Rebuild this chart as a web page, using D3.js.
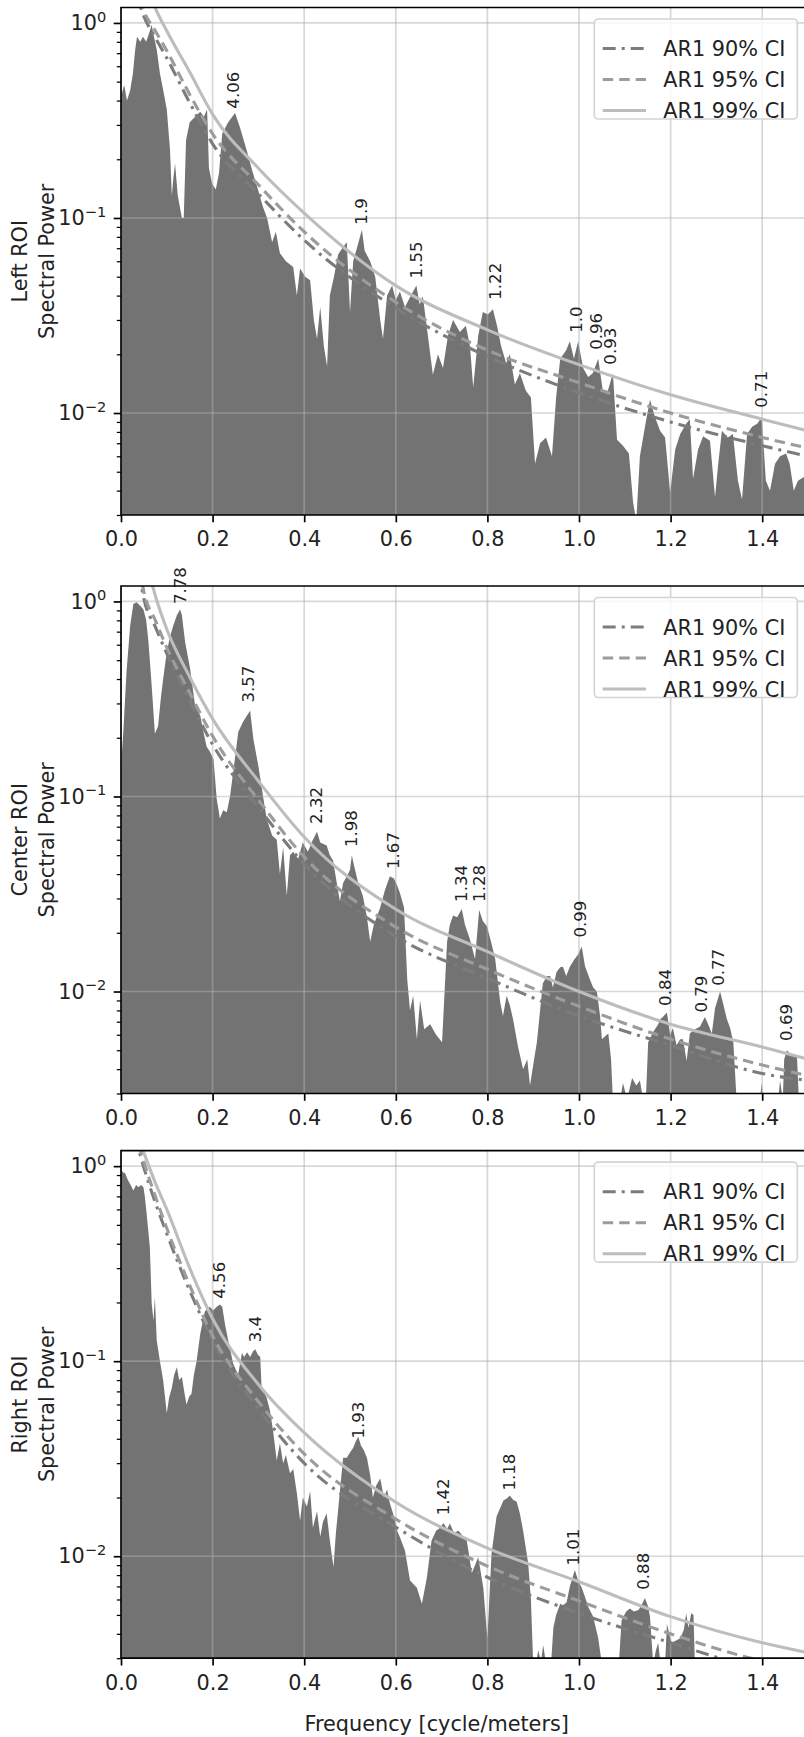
<!DOCTYPE html>
<html>
<head>
<meta charset="utf-8">
<script src="https://cdn.jsdelivr.net/npm/d3@7"></script>
<style>
  body { margin: 0; background: #fff; }
  text { font-family: "DejaVu Sans", sans-serif; fill: #222; }
</style>
</head>
<body>
<div id="chart"></div>
<script>

// ---- data ----
const xTicks = [0, 0.2, 0.4, 0.6, 0.8, 1.0, 1.2, 1.4];
const yMajor = [1, 0.1, 0.01];
const yMajorExp = ["0", "\u22121", "\u22122"];
const panelNames = ["Left ROI", "Center ROI", "Right ROI"];
const ciNames = ["AR1 90% CI", "AR1 95% CI", "AR1 99% CI"];

// [frequency, spectral power]
const leftSpectrum = [[0.000,0.42],[0.007,0.48],[0.013,0.40],[0.020,0.45],[0.026,0.55],[0.031,0.73],[0.035,0.85],[0.042,0.80],[0.048,0.85],[0.055,0.80],[0.061,0.88],[0.067,0.98],[0.072,0.85],[0.078,0.73],[0.085,0.55],[0.092,0.455],[0.100,0.36],[0.107,0.224],[0.111,0.13],[0.114,0.157],[0.118,0.19],[0.124,0.13],[0.133,0.10],[0.137,0.10],[0.142,0.25],[0.150,0.31],[0.162,0.33],[0.173,0.35],[0.181,0.33],[0.188,0.36],[0.192,0.18],[0.199,0.15],[0.207,0.14],[0.214,0.17],[0.221,0.27],[0.234,0.31],[0.249,0.345],[0.260,0.29],[0.275,0.22],[0.288,0.17],[0.299,0.14],[0.310,0.114],[0.319,0.10],[0.330,0.075],[0.338,0.085],[0.347,0.066],[0.360,0.06],[0.376,0.056],[0.384,0.040],[0.391,0.055],[0.402,0.05],[0.413,0.048],[0.421,0.03],[0.428,0.024],[0.435,0.035],[0.443,0.022],[0.450,0.0173],[0.456,0.04],[0.465,0.05],[0.474,0.065],[0.483,0.07],[0.493,0.075],[0.500,0.033],[0.507,0.06],[0.515,0.07],[0.526,0.087],[0.532,0.068],[0.544,0.06],[0.555,0.05],[0.566,0.03],[0.572,0.024],[0.581,0.04],[0.592,0.045],[0.600,0.038],[0.609,0.042],[0.620,0.035],[0.633,0.040],[0.645,0.045],[0.652,0.036],[0.659,0.0397],[0.670,0.025],[0.681,0.0157],[0.692,0.02],[0.703,0.017],[0.714,0.025],[0.725,0.03],[0.740,0.026],[0.753,0.028],[0.762,0.022],[0.769,0.0135],[0.780,0.025],[0.790,0.033],[0.801,0.032],[0.812,0.034],[0.821,0.028],[0.830,0.022],[0.841,0.018],[0.849,0.02],[0.860,0.014],[0.871,0.016],[0.884,0.013],[0.895,0.012],[0.904,0.0055],[0.915,0.007],[0.928,0.0075],[0.941,0.006],[0.950,0.012],[0.959,0.019],[0.972,0.021],[0.980,0.0233],[0.989,0.019],[0.998,0.0233],[1.009,0.017],[1.020,0.0153],[1.030,0.016],[1.042,0.019],[1.052,0.013],[1.063,0.013],[1.074,0.016],[1.083,0.0073],[1.096,0.0068],[1.109,0.0062],[1.118,0.0035],[1.125,0.0028],[1.133,0.0060],[1.144,0.0085],[1.155,0.0117],[1.166,0.0095],[1.177,0.0081],[1.188,0.0075],[1.199,0.0039],[1.210,0.0065],[1.221,0.0078],[1.234,0.0088],[1.242,0.0093],[1.249,0.0046],[1.260,0.0065],[1.271,0.0076],[1.286,0.0072],[1.297,0.0037],[1.304,0.0055],[1.312,0.0081],[1.325,0.0075],[1.336,0.0078],[1.347,0.0045],[1.356,0.0036],[1.367,0.0078],[1.378,0.0085],[1.389,0.0088],[1.399,0.0095],[1.408,0.0045],[1.417,0.004],[1.428,0.0055],[1.439,0.006],[1.452,0.0062],[1.460,0.0055],[1.469,0.004],[1.478,0.0045],[1.491,0.0047],[1.500,0.0045]];

const centerSpectrum = [[0.000,0.143],[0.005,0.214],[0.012,0.435],[0.020,0.75],[0.027,0.97],[0.034,0.99],[0.042,0.95],[0.049,0.91],[0.055,0.80],[0.060,0.62],[0.067,0.37],[0.074,0.21],[0.081,0.23],[0.087,0.32],[0.092,0.40],[0.100,0.55],[0.107,0.66],[0.114,0.75],[0.122,0.85],[0.129,0.91],[0.133,0.85],[0.140,0.62],[0.151,0.45],[0.162,0.29],[0.173,0.26],[0.179,0.22],[0.187,0.18],[0.194,0.17],[0.202,0.155],[0.209,0.097],[0.216,0.077],[0.223,0.085],[0.231,0.083],[0.238,0.10],[0.245,0.133],[0.256,0.214],[0.266,0.24],[0.275,0.26],[0.282,0.275],[0.289,0.197],[0.300,0.143],[0.311,0.097],[0.318,0.077],[0.330,0.063],[0.340,0.06],[0.347,0.04],[0.354,0.055],[0.362,0.031],[0.369,0.05],[0.376,0.052],[0.387,0.048],[0.397,0.058],[0.408,0.052],[0.419,0.06],[0.428,0.066],[0.435,0.058],[0.449,0.056],[0.456,0.05],[0.463,0.047],[0.472,0.035],[0.478,0.029],[0.485,0.036],[0.493,0.039],[0.500,0.042],[0.504,0.05],[0.509,0.044],[0.518,0.036],[0.528,0.031],[0.537,0.024],[0.544,0.018],[0.552,0.022],[0.566,0.027],[0.576,0.033],[0.587,0.039],[0.596,0.038],[0.603,0.035],[0.609,0.032],[0.618,0.027],[0.625,0.0115],[0.631,0.008],[0.638,0.0095],[0.646,0.0057],[0.653,0.009],[0.662,0.0064],[0.675,0.0068],[0.688,0.006],[0.701,0.0055],[0.712,0.018],[0.718,0.022],[0.725,0.0245],[0.734,0.024],[0.744,0.0265],[0.751,0.022],[0.762,0.0185],[0.773,0.0147],[0.782,0.0262],[0.790,0.023],[0.799,0.0216],[0.808,0.018],[0.817,0.0147],[0.828,0.0088],[0.834,0.0075],[0.842,0.0095],[0.849,0.0085],[0.856,0.0072],[0.867,0.0052],[0.878,0.004],[0.887,0.0045],[0.893,0.0033],[0.900,0.0042],[0.908,0.0055],[0.915,0.008],[0.921,0.011],[0.930,0.012],[0.937,0.012],[0.943,0.0105],[0.951,0.0126],[0.959,0.0133],[0.965,0.0134],[0.972,0.012],[0.980,0.0134],[0.989,0.0145],[0.998,0.0155],[1.006,0.017],[1.013,0.0135],[1.024,0.0115],[1.031,0.0105],[1.039,0.010],[1.046,0.0075],[1.050,0.0057],[1.057,0.0059],[1.064,0.0061],[1.070,0.0045],[1.074,0.0028],[1.090,0.0028],[1.096,0.0034],[1.105,0.0028],[1.116,0.0036],[1.125,0.0033],[1.133,0.0035],[1.140,0.0028],[1.146,0.0028],[1.151,0.0055],[1.162,0.0062],[1.173,0.0068],[1.177,0.0072],[1.183,0.0074],[1.192,0.0078],[1.199,0.006],[1.205,0.0065],[1.213,0.0053],[1.221,0.0057],[1.227,0.0057],[1.235,0.0044],[1.242,0.0061],[1.253,0.0064],[1.264,0.0066],[1.275,0.0074],[1.282,0.0068],[1.290,0.0061],[1.297,0.0082],[1.308,0.0100],[1.314,0.0088],[1.323,0.0072],[1.330,0.0065],[1.337,0.0055],[1.344,0.0028],[1.395,0.0028],[1.399,0.0034],[1.402,0.0028],[1.435,0.0028],[1.439,0.0035],[1.445,0.0028],[1.448,0.0045],[1.454,0.005],[1.461,0.0048],[1.469,0.0047],[1.476,0.0046],[1.480,0.0028],[1.500,0.0028]];

const rightSpectrum = [[0.000,0.97],[0.004,0.93],[0.009,0.92],[0.015,0.85],[0.020,0.81],[0.027,0.75],[0.033,0.80],[0.038,0.78],[0.044,0.80],[0.049,0.78],[0.052,0.70],[0.056,0.57],[0.063,0.384],[0.067,0.197],[0.071,0.161],[0.074,0.213],[0.078,0.128],[0.085,0.10],[0.092,0.08],[0.100,0.054],[0.105,0.065],[0.111,0.073],[0.116,0.085],[0.122,0.093],[0.127,0.08],[0.133,0.083],[0.138,0.07],[0.143,0.06],[0.149,0.066],[0.154,0.068],[0.159,0.085],[0.165,0.10],[0.173,0.138],[0.183,0.18],[0.194,0.19],[0.201,0.182],[0.209,0.19],[0.216,0.195],[0.221,0.19],[0.227,0.155],[0.234,0.128],[0.240,0.11],[0.245,0.097],[0.251,0.09],[0.256,0.086],[0.264,0.11],[0.269,0.105],[0.275,0.111],[0.282,0.105],[0.288,0.112],[0.293,0.115],[0.299,0.108],[0.304,0.105],[0.307,0.073],[0.312,0.07],[0.318,0.065],[0.325,0.056],[0.332,0.044],[0.340,0.031],[0.347,0.038],[0.354,0.03],[0.360,0.033],[0.369,0.0266],[0.376,0.028],[0.384,0.021],[0.391,0.0152],[0.397,0.02],[0.406,0.018],[0.413,0.0216],[0.419,0.014],[0.428,0.017],[0.435,0.0126],[0.441,0.015],[0.449,0.0166],[0.456,0.012],[0.464,0.0088],[0.469,0.013],[0.478,0.0216],[0.485,0.032],[0.493,0.032],[0.500,0.034],[0.507,0.036],[0.513,0.039],[0.518,0.041],[0.524,0.037],[0.530,0.035],[0.537,0.032],[0.544,0.026],[0.550,0.02],[0.557,0.023],[0.566,0.025],[0.574,0.02],[0.581,0.022],[0.587,0.0187],[0.596,0.016],[0.603,0.0135],[0.609,0.0125],[0.620,0.0107],[0.631,0.0075],[0.646,0.0069],[0.657,0.0057],[0.668,0.0078],[0.678,0.012],[0.688,0.0135],[0.697,0.014],[0.704,0.0148],[0.712,0.0138],[0.718,0.0147],[0.727,0.0132],[0.737,0.0135],[0.745,0.0128],[0.755,0.012],[0.766,0.0082],[0.773,0.009],[0.780,0.0099],[0.791,0.0069],[0.800,0.0038],[0.809,0.0103],[0.820,0.016],[0.835,0.0193],[0.843,0.0198],[0.849,0.0205],[0.856,0.0195],[0.864,0.019],[0.871,0.0165],[0.878,0.0135],[0.889,0.0092],[0.895,0.006],[0.900,0.0028],[0.906,0.0028],[0.911,0.0033],[0.917,0.0029],[0.922,0.0035],[0.928,0.0028],[0.939,0.0028],[0.944,0.0043],[0.950,0.005],[0.959,0.0057],[0.965,0.0056],[0.973,0.0058],[0.980,0.007],[0.991,0.0085],[0.998,0.0075],[1.006,0.0069],[1.013,0.0062],[1.020,0.0055],[1.031,0.0049],[1.042,0.0038],[1.050,0.0028],[1.087,0.0028],[1.093,0.0047],[1.103,0.0052],[1.111,0.0054],[1.120,0.0052],[1.130,0.0053],[1.138,0.0057],[1.144,0.0061],[1.151,0.0055],[1.155,0.0049],[1.162,0.0028],[1.168,0.0033],[1.173,0.0036],[1.178,0.0028],[1.188,0.0028],[1.192,0.0045],[1.197,0.004],[1.202,0.0036],[1.212,0.0037],[1.221,0.0038],[1.229,0.0042],[1.234,0.0051],[1.239,0.0043],[1.245,0.0051],[1.250,0.005],[1.253,0.0028],[1.500,0.0028]];

// AR1 confidence curves, sampled at these frequencies
const ciFreq = [0.03, 0.05, 0.075, 0.1, 0.15, 0.2, 0.3, 0.4, 0.6, 0.8, 1.0, 1.2, 1.4, 1.5];
const leftCI90 = [1.5, 1.08, 0.84, 0.66, 0.39, 0.24, 0.133, 0.077, 0.0345, 0.0195, 0.0127, 0.009, 0.0068, 0.006];
const leftCI95 = [1.6, 1.15, 0.91, 0.72, 0.43, 0.27, 0.148, 0.085, 0.037, 0.021, 0.0143, 0.010, 0.0075, 0.0066];
const leftCI99 = [2.6, 1.75, 1.19, 0.91, 0.56, 0.34, 0.18, 0.106, 0.045, 0.0267, 0.0177, 0.0124, 0.0093, 0.0081];
const centerCI90 = [2.0, 1.03, 0.74, 0.54, 0.31, 0.185, 0.088, 0.045, 0.0192, 0.0117, 0.0075, 0.0053, 0.0038, 0.0035];
const centerCI95 = [2.2, 1.12, 0.80, 0.58, 0.34, 0.204, 0.096, 0.049, 0.0214, 0.013, 0.0084, 0.0057, 0.0042, 0.0037];
const centerCI99 = [3.0, 1.8, 1.07, 0.72, 0.41, 0.25, 0.12, 0.062, 0.0264, 0.016, 0.0100, 0.0068, 0.0052, 0.0045];
const rightCI90 = [1.45, 0.98, 0.65, 0.45, 0.23, 0.128, 0.057, 0.030, 0.0141, 0.0078, 0.0051, 0.0036, 0.0026, 0.0023];
const rightCI95 = [1.55, 1.05, 0.70, 0.48, 0.245, 0.135, 0.062, 0.0335, 0.0155, 0.0089, 0.0059, 0.0040, 0.0029, 0.0026];
const rightCI99 = [1.54, 1.17, 0.82, 0.60, 0.30, 0.165, 0.076, 0.043, 0.0189, 0.011, 0.0074, 0.0049, 0.0036, 0.0032];

// labelled peaks: frequency, power where the label starts, period text
const leftPeaks = [
  {f: 0.246, p: 0.3635, label: "4.06"}, {f: 0.526, p: 0.0924, label: "1.9"},
  {f: 0.646, p: 0.049, label: "1.55"}, {f: 0.817, p: 0.0381, label: "1.22"},
  {f: 0.995, p: 0.0258, label: "1.0"}, {f: 1.039, p: 0.0211, label: "0.96"},
  {f: 1.069, p: 0.0177, label: "0.93"}, {f: 1.399, p: 0.01064, label: "0.71"}
];
const centerPeaks = [
  {f: 0.1308, p: 0.969, label: "7.78"}, {f: 0.278, p: 0.303, label: "3.57"},
  {f: 0.4273, p: 0.0723, label: "2.32"}, {f: 0.504, p: 0.055, label: "1.98"},
  {f: 0.595, p: 0.0425, label: "1.67"}, {f: 0.7439, p: 0.0288, label: "1.34"},
  {f: 0.7824, p: 0.0288, label: "1.28"}, {f: 1.0022, p: 0.0189, label: "0.99"},
  {f: 1.1878, p: 0.00844, label: "0.84"}, {f: 1.2678, p: 0.0078, label: "0.79"},
  {f: 1.3042, p: 0.0107, label: "0.77"}, {f: 1.4531, p: 0.00558, label: "0.69"}
];
const rightPeaks = [
  {f: 0.216, p: 0.209, label: "4.56"}, {f: 0.2926, p: 0.125, label: "3.4"},
  {f: 0.518, p: 0.0401, label: "1.93"}, {f: 0.7038, p: 0.0162, label: "1.42"},
  {f: 0.849, p: 0.0217, label: "1.18"}, {f: 0.9876, p: 0.00896, label: "1.01"},
  {f: 1.1404, p: 0.00673, label: "0.88"}
];

// ---- layout ----
const width = 804;
const height = 1737;
const plotLeft = 121;
const plotRight = 808;
const panelTops = [7.5, 586, 1150.7];
const panelHeight = 507.5;
const yMin = 0.003;
const yMax = 1.2;
const fontSize = 20.8;

const ciStyles = [
  {color: "#7c7c7c", dash: "13,6,3,6"},
  {color: "#9c9c9c", dash: "10.5,6"},
  {color: "#bdbdbd", dash: null}
];

const panels = [
  {name: panelNames[0], spectrum: leftSpectrum, ci: [leftCI90, leftCI95, leftCI99], peaks: leftPeaks},
  {name: panelNames[1], spectrum: centerSpectrum, ci: [centerCI90, centerCI95, centerCI99], peaks: centerPeaks},
  {name: panelNames[2], spectrum: rightSpectrum, ci: [rightCI90, rightCI95, rightCI99], peaks: rightPeaks}
];

let svg = d3.select("#chart")
  .append("svg")
  .attr("width", width)
  .attr("height", height);

let scaleX = d3.scaleLinear()
  .domain([0, 1.5])
  .range([plotLeft, plotRight]);

panels.forEach((panel, i) => {
  const top = panelTops[i];
  const bottom = top + panelHeight;

  let scaleY = d3.scaleLog()
    .domain([yMin, yMax])
    .range([bottom, top]);

  const g = svg.append("g");

  g.append("clipPath")
    .attr("id", "clip" + i)
    .append("rect")
    .attr("x", plotLeft)
    .attr("y", top)
    .attr("width", plotRight - plotLeft)
    .attr("height", panelHeight);

  const plot = g.append("g").attr("clip-path", "url(#clip" + i + ")");

  // spectrum
  plot.append("path")
    .datum(panel.spectrum)
    .attr("fill", "#737373")
    .attr("d", d3.area()
      .x(d => scaleX(d[0]))
      .y0(bottom)
      .y1(d => scaleY(Math.max(d[1], yMin * 0.9))));

  // grid
  plot.append("g")
    .selectAll("line")
    .data(xTicks)
    .join("line")
    .attr("x1", d => scaleX(d)).attr("x2", d => scaleX(d))
    .attr("y1", top).attr("y2", bottom)
    .attr("stroke", "#b0b0b0").attr("stroke-opacity", 0.5).attr("stroke-width", 1.67);
  plot.append("g")
    .selectAll("line")
    .data(yMajor)
    .join("line")
    .attr("x1", plotLeft).attr("x2", plotRight)
    .attr("y1", d => scaleY(d)).attr("y2", d => scaleY(d))
    .attr("stroke", "#b0b0b0").attr("stroke-opacity", 0.5).attr("stroke-width", 1.67);

  // AR1 curves
  panel.ci.forEach((values, k) => {
    plot.append("path")
      .datum(values)
      .attr("fill", "none")
      .attr("stroke", ciStyles[k].color)
      .attr("stroke-width", 3.1)
      .attr("stroke-dasharray", ciStyles[k].dash)
      .attr("d", d3.line()
        .curve(d3.curveMonotoneX)
        .x((d, j) => scaleX(ciFreq[j]))
        .y(d => scaleY(d)));
  });

  // peak labels
  g.append("g")
    .selectAll("text")
    .data(panel.peaks)
    .join("text")
    .attr("transform", d => "translate(" + scaleX(d.f) + "," + scaleY(d.p) + ") rotate(-90)")
    .attr("text-anchor", "start")
    .attr("dominant-baseline", "central")
    .attr("font-size", 16.6)
    .text(d => d.label);

  // legend
  const legend = g.append("g")
    .attr("transform", "translate(594.3," + (top + 11.5) + ")");
  legend.append("rect")
    .attr("width", 203)
    .attr("height", 100)
    .attr("rx", 4)
    .attr("fill", "white")
    .attr("fill-opacity", 0.8)
    .attr("stroke", "#d4d4d4")
    .attr("stroke-width", 1.67);
  ciNames.forEach((name, k) => {
    const rowY = 29.5 + k * 31;
    legend.append("line")
      .attr("x1", 8.4).attr("x2", 51.7)
      .attr("y1", rowY).attr("y2", rowY)
      .attr("stroke", ciStyles[k].color)
      .attr("stroke-width", 3.1)
      .attr("stroke-dasharray", ciStyles[k].dash);
    legend.append("text")
      .attr("x", 69)
      .attr("y", rowY + 7.6)
      .attr("font-size", fontSize)
      .text(name);
  });

  // axes
  const xAxis = g.append("g")
    .attr("transform", "translate(0," + bottom + ")")
    .call(d3.axisBottom(scaleX)
      .tickValues(xTicks)
      .tickSize(7.3)
      .tickPadding(9.4)
      .tickFormat(d3.format(".1f")));
  xAxis.select(".domain").remove();
  xAxis.selectAll("line").attr("stroke", "#000").attr("stroke-width", 1.67);
  xAxis.selectAll("text").attr("font-size", fontSize).attr("font-family", "DejaVu Sans").attr("fill", "#222");

  const minorTicks = scaleY.ticks().filter(v => !yMajor.some(m => Math.abs(m - v) < 1e-9));
  const yMinorAxis = g.append("g")
    .attr("transform", "translate(" + plotLeft + ",0)")
    .call(d3.axisLeft(scaleY).tickValues(minorTicks).tickSize(4.2).tickFormat(""));
  yMinorAxis.select(".domain").remove();
  yMinorAxis.selectAll("line").attr("stroke", "#000").attr("stroke-width", 1.25);

  const yAxis = g.append("g")
    .attr("transform", "translate(" + plotLeft + ",0)")
    .call(d3.axisLeft(scaleY).tickValues(yMajor).tickSize(7.3).tickFormat(""));
  yAxis.select(".domain").remove();
  yAxis.selectAll("line").attr("stroke", "#000").attr("stroke-width", 1.67);

  yMajor.forEach((v, k) => {
    const t = g.append("text")
      .attr("x", plotLeft - 14.8)
      .attr("y", scaleY(v) + 7.2)
      .attr("text-anchor", "end")
      .attr("font-size", fontSize);
    t.append("tspan").text("10");
    t.append("tspan")
      .attr("dy", -8.6)
      .attr("font-size", 14.6)
      .text(yMajorExp[k]);
  });

  // spines
  g.append("path")
    .attr("d", "M" + plotRight + "," + top + "H" + plotLeft + "V" + bottom + "H" + plotRight)
    .attr("fill", "none")
    .attr("stroke", "#000")
    .attr("stroke-width", 1.67);

  // y label
  const cy = (top + bottom) / 2;
  g.append("text")
    .attr("transform", "translate(27.3," + cy + ") rotate(-90)")
    .attr("text-anchor", "middle")
    .attr("font-size", fontSize)
    .text(panel.name);
  g.append("text")
    .attr("transform", "translate(53.5," + cy + ") rotate(-90)")
    .attr("text-anchor", "middle")
    .attr("font-size", fontSize)
    .text("Spectral Power");
});

svg.append("text")
  .attr("x", 436.7)
  .attr("y", 1731)
  .attr("text-anchor", "middle")
  .attr("font-size", fontSize)
  .text("Frequency [cycle/meters]");

</script>
</body>
</html>
